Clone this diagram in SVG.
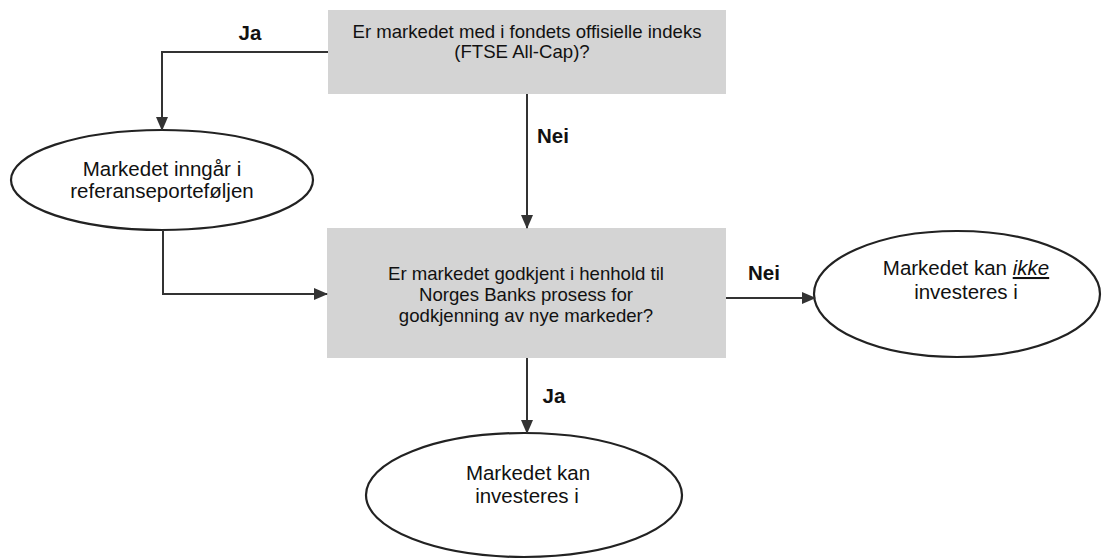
<svg xmlns="http://www.w3.org/2000/svg" width="1109" height="559" viewBox="0 0 1109 559">
<style>
.box{fill:#d4d4d4;stroke:none}
.ell{fill:#ffffff;stroke:#222;stroke-width:2.2}
.bt{font-family:"Liberation Sans",Arial,sans-serif;font-size:18.6px;fill:#111;text-anchor:middle}
.et{font-family:"Liberation Sans",Arial,sans-serif;font-size:20.5px;fill:#111;text-anchor:middle}
.lbl{font-family:"Liberation Sans",Arial,sans-serif;font-size:20.5px;font-weight:bold;fill:#111;text-anchor:middle}
.ln{fill:none;stroke:#333;stroke-width:2}
</style>
<defs>
<marker id="ah" markerWidth="14" markerHeight="12" refX="13" refY="6" orient="auto" markerUnits="userSpaceOnUse">
<path d="M0,0 L14,6 L0,12 Z" fill="#333"/>
</marker>
</defs>
<rect width="1109" height="559" fill="#ffffff"/>
<g id="q1">
<rect class="box" x="328" y="10" width="398" height="84"/>
<text class="bt" x="527" y="38">Er markedet med i fondets offisielle indeks</text>
<text class="bt" x="522" y="58">(FTSE All-Cap)?</text>
</g>
<g id="ref">
<ellipse class="ell" cx="162" cy="180" rx="151" ry="50"/>
<text class="et" x="162" y="176">Markedet inngår i</text>
<text class="et" x="162" y="198">referanseporteføljen</text>
</g>
<g id="q2">
<rect class="box" x="327" y="228" width="399" height="130"/>
<text class="bt" x="526" y="280">Er markedet godkjent i henhold til</text>
<text class="bt" x="526" y="301">Norges Banks prosess for</text>
<text class="bt" x="526" y="322">godkjenning av nye markeder?</text>
</g>
<g id="no">
<ellipse class="ell" cx="957" cy="294" rx="143" ry="63"/>
<text class="et" x="966" y="275">Markedet kan <tspan font-style="italic" text-decoration="underline">ikke</tspan></text>
<text class="et" x="966" y="299">investeres i</text>
</g>
<g id="yes">
<ellipse class="ell" cx="524" cy="495" rx="158" ry="62"/>
<text class="et" x="528" y="480">Markedet kan</text>
<text class="et" x="527" y="503">investeres i</text>
</g>
<g id="connectors">
<polyline class="ln" points="328,52 162,52 162,130" marker-end="url(#ah)"/>
<line class="ln" x1="527" y1="94" x2="527" y2="228" marker-end="url(#ah)"/>
<polyline class="ln" points="163,230 163,294 327,294" marker-end="url(#ah)"/>
<line class="ln" x1="726" y1="298" x2="815" y2="298" marker-end="url(#ah)"/>
<line class="ln" x1="527" y1="358" x2="527" y2="433" marker-end="url(#ah)"/>
<text class="lbl" x="250" y="40">Ja</text>
<text class="lbl" x="553" y="143">Nei</text>
<text class="lbl" x="764" y="280">Nei</text>
<text class="lbl" x="554" y="403">Ja</text>
</g>
</svg>
